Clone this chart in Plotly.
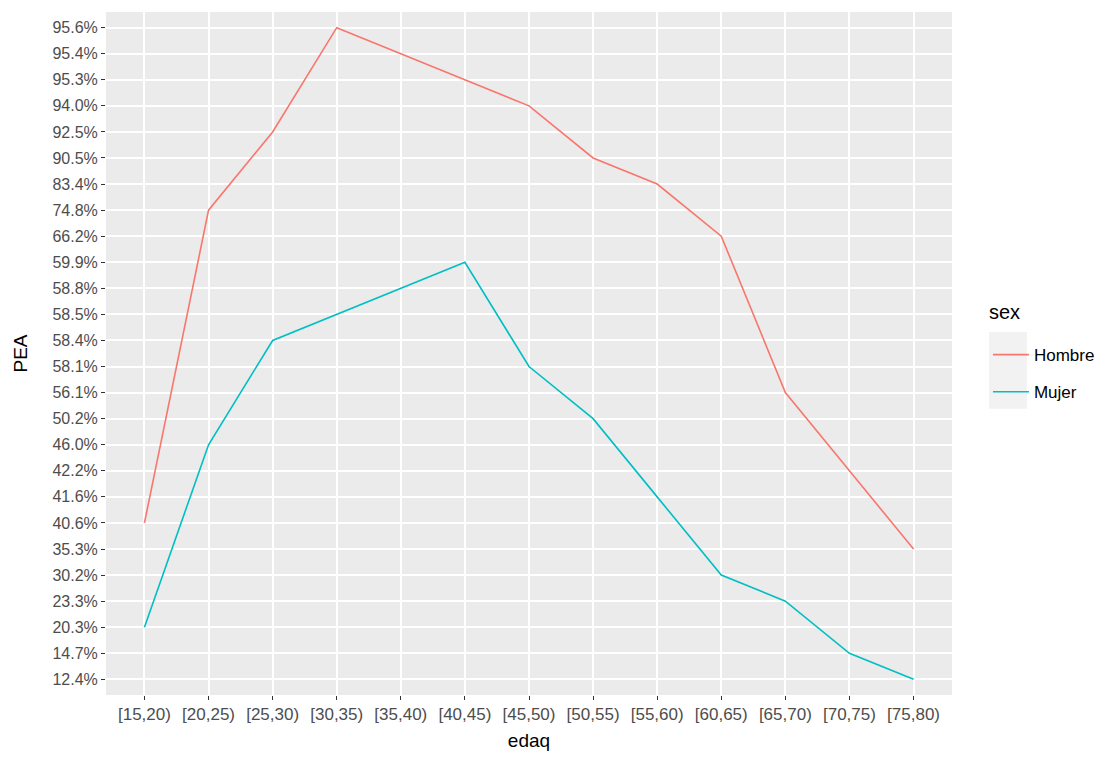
import plotly.graph_objects as go

edaq = ["[15,20)", "[20,25)", "[25,30)", "[30,35)", "[35,40)", "[40,45)", "[45,50)",
        "[50,55)", "[55,60)", "[60,65)", "[65,70)", "[70,75)", "[75,80)"]
hombre = ["40.6%", "74.8%", "92.5%", "95.6%", "95.4%", "95.3%", "94.0%",
          "90.5%", "83.4%", "66.2%", "56.1%", "42.2%", "35.3%"]
mujer = ["20.3%", "46.0%", "58.4%", "58.5%", "58.8%", "59.9%", "58.1%",
         "50.2%", "41.6%", "30.2%", "23.3%", "14.7%", "12.4%"]
y_levels = sorted(set(hombre + mujer), key=lambda s: float(s.rstrip("%")))

FONT = "Liberation Sans, Arial, sans-serif"

fig = go.Figure()
fig.add_trace(go.Scatter(x=edaq, y=hombre, mode="lines", name="Hombre",
                         line=dict(color="#F8766D", width=1.6), legendgroup="h"))
fig.add_trace(go.Scatter(x=edaq, y=mujer, mode="lines", name="Mujer",
                         line=dict(color="#00BFC4", width=1.6), legendgroup="m"))

L, R, T, B = 106, 159, 12, 63
W, H = 1112, 760
pw, ph = W - L - R, H - T - B

def px_x(p):
    return (p - L) / pw

def px_y(p):
    return (H - B - p) / ph

fig.add_shape(type="rect", xref="paper", yref="paper",
              x0=px_x(990), x1=px_x(1028), y0=px_y(410), y1=px_y(333),
              fillcolor="#F2F2F2", line=dict(width=0), layer="below")

fig.add_annotation(text="sex", xref="paper", yref="paper",
                   x=px_x(988), y=px_y(313), xanchor="left", yanchor="middle",
                   showarrow=False, font=dict(size=20, color="#000000"))

fig.update_layout(
    width=W, height=H,
    margin=dict(l=L, r=R, t=T, b=B),
    paper_bgcolor="white",
    plot_bgcolor="#EBEBEB",
    font=dict(family=FONT, color="#4D4D4D", size=16),
    showlegend=True,
    legend=dict(
        font=dict(size=17, color="#000000"),
        x=px_x(989), y=px_y(338), xanchor="left", yanchor="top",
        bgcolor="rgba(0,0,0,0)", tracegroupgap=12, itemwidth=36,
    ),
    xaxis=dict(
        title=dict(text="edaq", font=dict(size=19, color="#000000"), standoff=10),
        type="category", categoryorder="array", categoryarray=edaq,
        range=[-0.6, len(edaq) - 0.4],
        showgrid=True, gridcolor="white", gridwidth=1.6,
        ticks="outside", ticklen=4, tickcolor="#333333", tickwidth=1.2,
        tickfont=dict(size=17, color="#4D4D4D"),
        zeroline=False, showline=False, fixedrange=True,
    ),
    yaxis=dict(
        title=dict(text="PEA", font=dict(size=19, color="#000000"), standoff=19),
        type="category", categoryorder="array", categoryarray=y_levels,
        range=[-0.6, len(y_levels) - 0.4],
        showgrid=True, gridcolor="white", gridwidth=1.6,
        ticks="outside", ticklen=4, tickcolor="#333333", tickwidth=1.2,
        tickfont=dict(size=16, color="#4D4D4D"),
        zeroline=False, showline=False, fixedrange=True,
    ),
)

fig.write_html("out.html", config={"displayModeBar": False},
               post_script="document.body.style.margin='0';")
